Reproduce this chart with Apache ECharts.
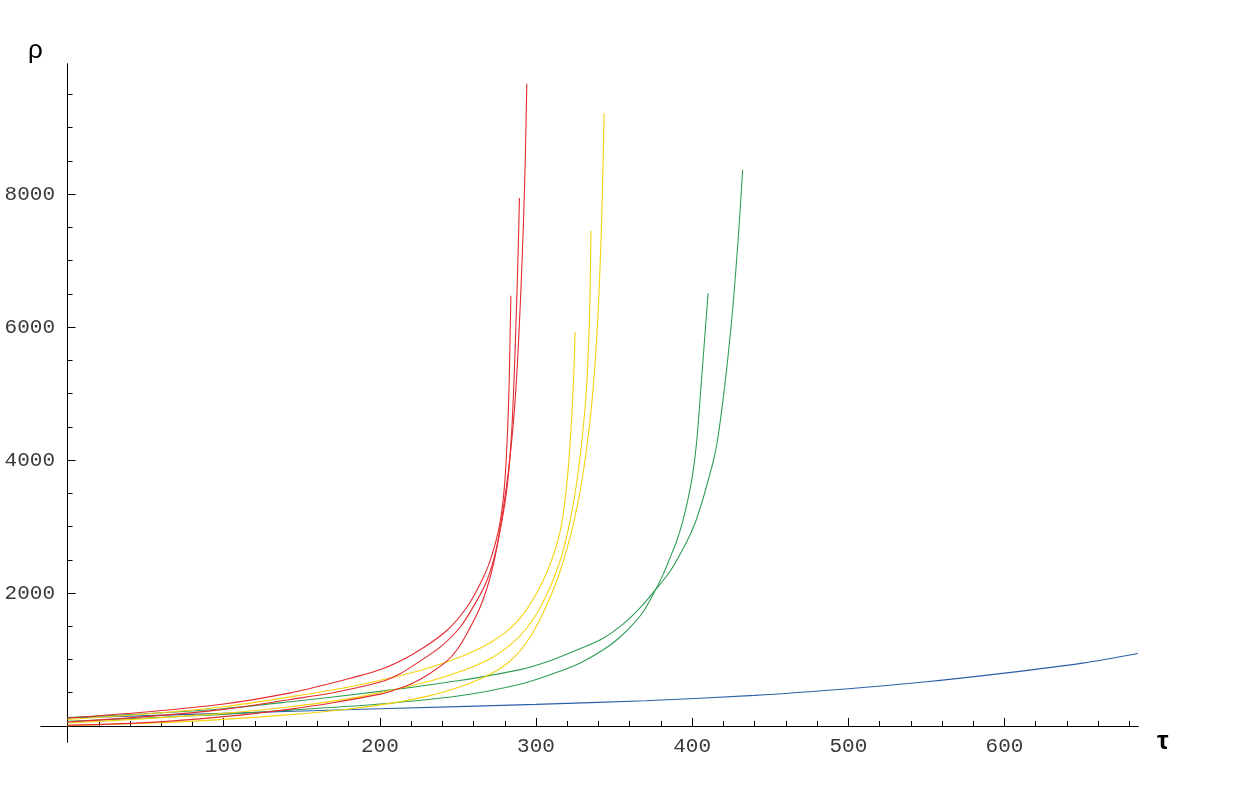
<!DOCTYPE html>
<html>
<head>
<meta charset="utf-8">
<script src="https://cdn.jsdelivr.net/npm/echarts@6/dist/echarts.min.js"></script>
<style>
html,body{margin:0;padding:0;background:#fff;}
#chart{width:1258px;height:811px;}
</style>
</head>
<body>
<div id="chart"></div>
<script>
// ---- data: [tau, rho] pairs ----
const redA = [[0,10],[50,50],[100,140],[142.7,254],[170,350],[200.3,479],[210,545],[221.6,650],[232,790],[242.9,975],[249.5,1150],[255.7,1387],[264.2,1785],[270.6,2233],[274.9,2682],[279.1,3280],[282.4,3850],[285.2,4480],[287.2,5100],[288.8,5773],[290.4,6600],[292,7600],[293.1,8500],[294.1,9660]];
const redB = [[0,60],[50,140],[100,250],[142.7,399],[170,500],[200.3,660],[212,775],[221.6,912],[238.6,1186],[251.4,1485],[262.1,1885],[268.5,2184],[273.8,2583],[278.1,3081],[281,3500],[283,3950],[284.6,4500],[285.9,5200],[287.1,6000],[288.3,6900],[289.4,7940]];
const redC = [[0,120],[50,210],[100,330],[142.7,498],[170,650],[200.3,848],[221.6,1087],[242.9,1436],[255.7,1785],[264.2,2134],[270.6,2483],[275.9,2932],[278.7,3350],[280.4,3800],[281.8,4450],[282.8,5150],[283.9,6470]];
const yellowA = [[0,5],[50,40],[100,100],[142.7,170],[175,240],[206.7,340],[230,445],[250,580],[265,715],[278,880],[288,1080],[296,1330],[302,1580],[308,1880],[314,2230],[319.6,2650],[324.5,3100],[328.6,3580],[332.3,4150],[335.3,4750],[337.8,5450],[339.8,6250],[341.4,7150],[342.6,8100],[343.6,9214]];
const yellowB = [[0,45],[50,110],[100,190],[142.7,289],[185,430],[228,650],[255,850],[272,1030],[285,1250],[294,1470],[301,1710],[307,1980],[312.5,2290],[317.5,2650],[321.5,3050],[325,3500],[328,4000],[330.5,4550],[332.5,5150],[333.8,5800],[334.6,6500],[335.2,7445]];
const yellowC = [[0,100],[50,180],[100,290],[142.7,438],[185,610],[228,850],[255,1070],[272,1270],[284,1480],[293,1720],[300,1980],[306,2260],[311,2560],[315,2880],[317.5,3200],[319.3,3550],[320.9,3950],[322.4,4450],[323.6,4980],[324.4,5430],[325,5920]];
const greenA = [[0,125],[50,185],[100,260],[142.7,364],[200,520],[250,680],[289.8,848],[310,990],[328.2,1162],[343,1320],[355.9,1536],[366,1760],[375.1,2009],[386,2330],[396.5,2770],[402,3060],[407.1,3430],[410.5,3720],[413.5,3979],[416.1,4278],[419.2,4800],[422.1,5374],[425.5,6150],[428.5,7019],[430.5,7680],[432.3,8366]];
const greenB = [[0,70],[50,120],[100,175],[142.7,239],[200,330],[250,450],[289.8,628],[311.1,788],[328,945],[343.1,1147],[353,1320],[362.3,1536],[369,1730],[375.1,1985],[381.5,2284],[386,2540],[390.1,2782],[394,3080],[397.5,3430],[400.4,3800],[402.9,4278],[405,4900],[407.1,5550],[408.7,6050],[410.2,6510]];
const blue = [[0,120],[100,190],[200,258],[300,325],[370,380],[440,460],[500,560],[550,665],[600,795],[650,945],[685.5,1090]];

// ---- ticks ----
const xMajorTicks = [100,200,300,400,500,600];
const xMinorTicks = [20,40,60,80,120,140,160,180,220,240,260,280,320,340,360,380,420,440,460,480,520,540,560,580,620,640,660,680];
const yMajorTicks = [2000,4000,6000,8000];
const yMinorTicks = [500,1000,1500,2500,3000,3500,4500,5000,5500,6500,7000,7500,8500,9000,9500];

const C_RED = '#e42a2f', C_YEL = '#f5d20f', C_GRN = '#2f9e55', C_BLU = '#2b5fa8';

const chart = echarts.init(document.getElementById('chart'), null, {renderer:'canvas'});
const labelFont = {fontFamily:'Liberation Mono', fontSize:21, color:'#3a3a3a', formatter:function(v){return String(v);}};
const axisLineStyle = {color:'#000', width:1};

function lineSeries(data, color){
  return {type:'line', data:data, xAxisIndex:0, yAxisIndex:0, showSymbol:false, smooth:0.3,
          lineStyle:{color:color, width:1.1}, itemStyle:{color:color}, silent:true};
}

chart.setOption({
  animation:false,
  backgroundColor:'#fff',
  grid:{left:41, right:120, top:64, bottom:69, containLabel:false, outerBoundsMode:'none'},
  xAxis:[
    {type:'value', min:-17, max:685.5, position:'bottom',
     axisLine:{show:true, onZero:true, lineStyle:axisLineStyle},
     axisTick:{show:true, inside:true, length:8, customValues:xMajorTicks, lineStyle:axisLineStyle},
     axisLabel:{show:true, margin:-6, customValues:xMajorTicks, hideOverlap:false, ...labelFont},
     splitLine:{show:false}},
    {type:'value', min:-17, max:685.5, position:'bottom',
     axisLine:{show:true, onZero:true, lineStyle:axisLineStyle},
     axisTick:{show:true, inside:true, length:5, customValues:xMinorTicks, lineStyle:axisLineStyle},
     axisLabel:{show:false},
     splitLine:{show:false}}
  ],
  yAxis:[
    {type:'value', min:-241, max:9956, position:'left',
     axisLine:{show:true, onZero:true, lineStyle:axisLineStyle},
     axisTick:{show:true, inside:true, length:8, customValues:yMajorTicks, lineStyle:axisLineStyle},
     axisLabel:{show:true, margin:-14, customValues:yMajorTicks, hideOverlap:false, ...labelFont},
     splitLine:{show:false}},
    {type:'value', min:-241, max:9956, position:'left',
     axisLine:{show:true, onZero:true, lineStyle:axisLineStyle},
     axisTick:{show:true, inside:true, length:5, customValues:yMinorTicks, lineStyle:axisLineStyle},
     axisLabel:{show:false},
     splitLine:{show:false}}
  ],
  graphic:[
    {type:'text', left:28, top:38, style:{text:'ρ', font:'26px "Liberation Sans"', fill:'#000'}},
    {type:'text', left:1157, top:729, style:{text:'τ', font:'bold 26px "Liberation Sans"', fill:'#000'}}
  ],
  series:[
    lineSeries(blue, C_BLU),
    lineSeries(greenA, C_GRN),
    lineSeries(greenB, C_GRN),
    lineSeries(yellowA, C_YEL),
    lineSeries(yellowB, C_YEL),
    lineSeries(yellowC, C_YEL),
    lineSeries(redA, C_RED),
    lineSeries(redB, C_RED),
    lineSeries(redC, C_RED)
  ]
});
</script>
</body>
</html>
